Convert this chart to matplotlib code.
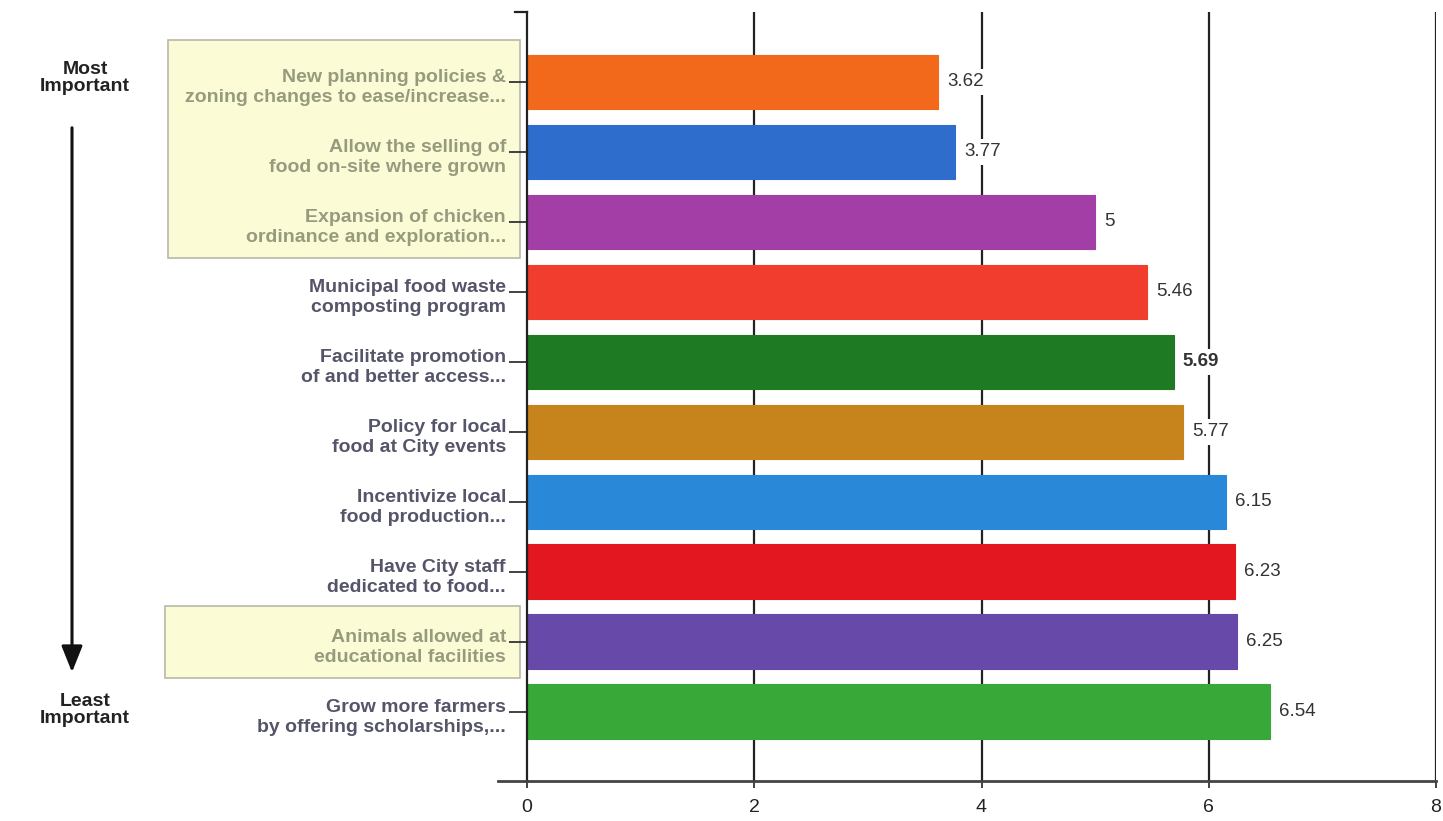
import matplotlib.pyplot as plt
import matplotlib.transforms as mtransforms
from matplotlib.patches import Rectangle, FancyArrowPatch
from matplotlib.lines import Line2D

plt.rcParams['font.family'] = ['Liberation Sans', 'DejaVu Sans']

labels = [
    "New planning policies &\nzoning changes to ease/increase...",
    "Allow the selling of\nfood on-site where grown",
    "Expansion of chicken\nordinance and exploration...",
    "Municipal food waste\ncomposting program",
    "Facilitate promotion\nof and better access...",
    "Policy for local\nfood at City events",
    "Incentivize local\nfood production...",
    "Have City staff\ndedicated to food...",
    "Animals allowed at\neducational facilities",
    "Grow more farmers\nby offering scholarships,...",
]
scores = [3.62, 3.77, 5, 5.46, 5.69, 5.77, 6.15, 6.23, 6.25, 6.54]
score_text = ["3.62", "3.77", "5", "5.46", "5.69", "5.77", "6.15", "6.23", "6.25", "6.54"]
colors = ["#f2691c", "#2f6dcc", "#a23ea6", "#f03d2d", "#1f7a24",
          "#c7841c", "#2a88d8", "#e2171f", "#6649a8", "#38a838"]
highlighted = [0, 1, 2, 8]
xticks = [0, 2, 4, 6, 8]

fig = plt.figure(figsize=(14.43, 8.21), dpi=100)
ax = fig.add_axes([527 / 1443, 1 - 781 / 821, 909 / 1443, 769 / 821])

ypos = list(range(len(scores)))
for x in xticks[1:]:
    ax.axvline(x, color="#222222", lw=1.6, zorder=1)
ax.barh(ypos, scores, height=0.78, color=colors, zorder=2,
        edgecolor=colors, linewidth=0.8)

for i, (v, t) in enumerate(zip(scores, score_text)):
    ax.text(v + 0.08, i, t, va="center", ha="left", fontsize=13.5,
            color="#333333", fontweight="bold" if t == "5.69" else "normal",
            zorder=3, bbox=dict(boxstyle="square,pad=0.25", fc="white", ec="none"))

ax.set_xlim(0, 8)
ax.set_ylim(len(scores) - 0.01, -1.0)
ax.set_xticks(xticks)
ax.set_xticklabels([str(x) for x in xticks], fontsize=14, color="#222222")
ax.set_yticks(ypos)
ax.set_yticklabels([])
ax.tick_params(axis="y", length=13, width=1.2, color="#222222")
ax.tick_params(axis="x", length=5, width=1.2, color="#222222", pad=8)

# category labels, two lines each, sitting a little below their tick
lab_tr = mtransforms.blended_transform_factory(ax.transAxes, ax.transData)
for i, lab in enumerate(labels):
    ax.text(-21 / 909, i + 0.08, lab, transform=lab_tr, ha="right", va="center",
            fontsize=14, fontweight="bold", linespacing=1.27, clip_on=False,
            color="#979b7e" if i in highlighted else "#55556a")

for s in ["top", "right"]:
    ax.spines[s].set_visible(False)
ax.spines["left"].set_linewidth(1.6)
ax.spines["bottom"].set_linewidth(2.0)
ax.spines["left"].set_color("#222222")
ax.spines["bottom"].set_color("#444444")
ax.add_line(Line2D([-0.032, 0], [0, 0], transform=ax.transAxes, color="#444444",
                   lw=2.0, clip_on=False))
ax.add_line(Line2D([-0.013, 0], [1, 1], transform=ax.transAxes, color="#222222",
                   lw=1.6, clip_on=False))

# highlight boxes behind the top three and the ninth label
for x0, y0, w, h in [(168, 40, 352, 218), (165, 606, 355, 72)]:
    ax.add_patch(Rectangle((x0 / 1443, 1 - (y0 + h) / 821), w / 1443, h / 821,
                           transform=fig.transFigure, fc="#fbfbd6", ec="#b8b8a8",
                           lw=1.2, zorder=0, clip_on=False))

fig.text(85 / 1443, 1 - 78 / 821, "Most\nImportant", ha="center", va="center",
         fontsize=14, fontweight="heavy", color="#222222", linespacing=0.95)
fig.text(85 / 1443, 1 - 710 / 821, "Least\nImportant", ha="center", va="center",
         fontsize=14, fontweight="heavy", color="#222222", linespacing=0.95)
fig.add_artist(FancyArrowPatch(
    (72 / 1443, 1 - 125 / 821), (72 / 1443, 1 - 675 / 821),
    transform=fig.transFigure, arrowstyle="-|>,head_length=10,head_width=4",
    color="#111111", lw=2.2, mutation_scale=1.6))

fig.savefig("out.png", dpi=100)
